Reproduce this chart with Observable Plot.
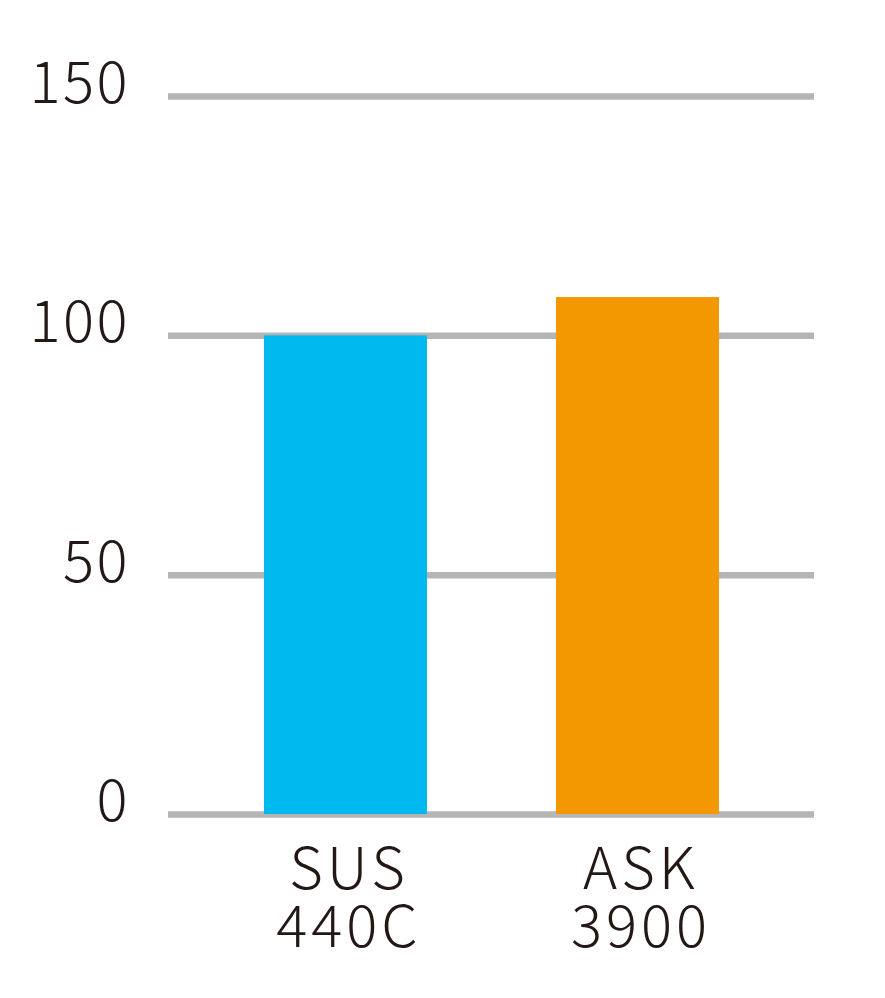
<!DOCTYPE html>
<html>
<head>
<meta charset="utf-8">
<script src="https://cdn.jsdelivr.net/npm/d3@7"></script>
<script src="https://cdn.jsdelivr.net/npm/@observablehq/plot@0.6"></script>
<style>
  html, body { margin: 0; padding: 0; background: #fff; }
  #chart { width: 885px; height: 998px; }
  #chart svg text { font-weight: 300; }
  #chart svg g[aria-label="x-axis tick label"] text { letter-spacing: 4px; }
  #chart svg g[aria-label="y-axis tick label"] text { letter-spacing: 2.5px; }
</style>
</head>
<body>
<div id="chart"></div>
<script>
const categories = ["SUS 440C", "ASK 3900"];
const values = [100, 108];
const colors = ["#00b9ef", "#f39800"];
const yTicks = [0, 50, 100, 150];

const data = categories.map((c, i) => ({category: c, value: values[i], color: colors[i]}));

const font = "'Noto Sans CJK JP', 'Noto Sans', sans-serif";
const textColor = "#231815";

const chart = Plot.plot({
  width: 885,
  height: 998,
  marginLeft: 168,
  marginRight: 71,
  marginTop: 96,
  marginBottom: 184,
  style: {fontFamily: font, background: "#fff", color: textColor},
  x: {domain: categories, paddingInner: 0.443, paddingOuter: 0.3255, label: null},
  y: {domain: [0, 150], label: null},
  marks: [
    Plot.ruleY(yTicks, {stroke: "#b5b5b5", strokeWidth: 6.5}),
    Plot.barY(data, {x: "category", y: "value", fill: "color"}),
    Plot.axisY(yTicks, {
      tickSize: 0, tickPadding: 38.5, fontSize: 58, dy: -12,
      fill: textColor, label: null
    }),
    Plot.axisX({
      tickSize: 0, tickPadding: 33, fontSize: 58, lineHeight: 1.0, dx: 3,
      fill: textColor, label: null,
      tickFormat: d => d.replace(" ", "\n")
    })
  ]
});
document.getElementById("chart").appendChild(chart);
</script>
</body>
</html>
